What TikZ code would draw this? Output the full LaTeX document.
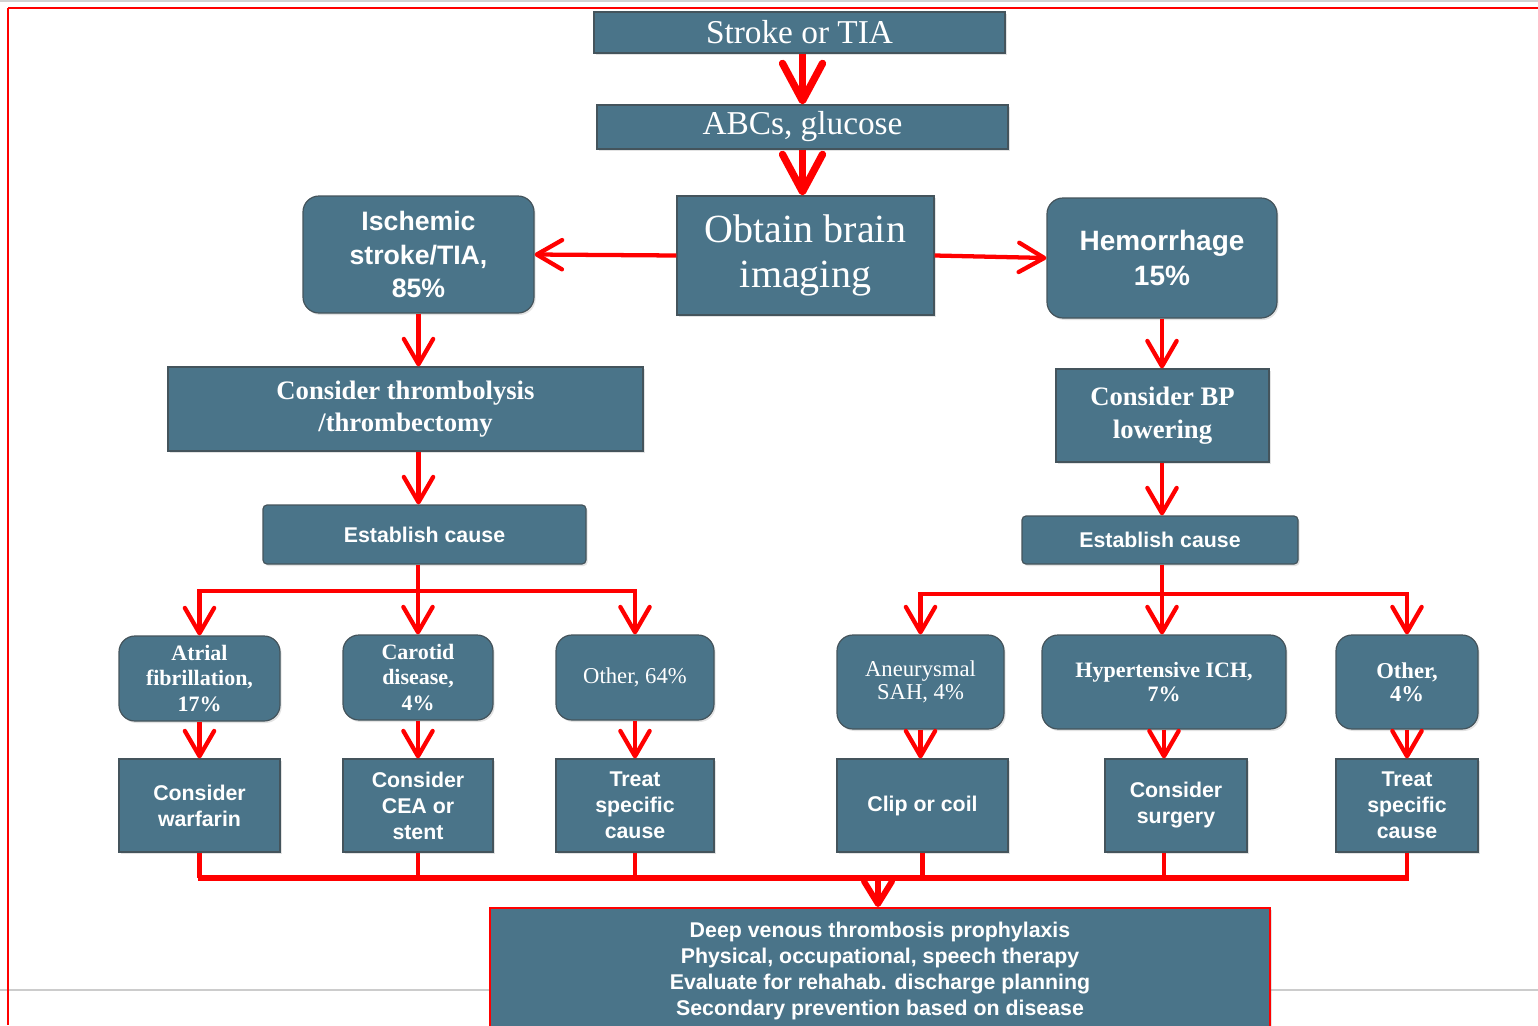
\documentclass[tikz,border=0pt]{standalone}
\usepackage{fontspec}
\setmainfont{Liberation Serif}
\newfontfamily\sansf{Liberation Sans}
\usetikzlibrary{arrows.meta,shadows}
\definecolor{boxfill}{RGB}{74,116,137}
\definecolor{boxedge}{RGB}{68,84,92}
\definecolor{arrred}{RGB}{255,0,0}
\begin{document}
\begin{tikzpicture}[x=0.75pt,y=-0.75pt,
  box/.style={draw=boxedge, line width=0.9pt, fill=boxfill, text=white, align=center, inner sep=0pt,
    drop shadow={opacity=0.22, shadow xshift=1.2pt, shadow yshift=-1.5pt}},
  rbox/.style={box, rounded corners=12pt},
  sbox/.style={box, rounded corners=3pt},
  serifL/.style={font=\fontsize{25}{30}\selectfont},
  serifXL/.style={font=\fontsize{30}{34}\selectfont},
  serifB/.style={font=\bfseries\fontsize{20}{24}\selectfont},
  serifS/.style={font=\fontsize{17}{19}\selectfont},
  serifSB/.style={font=\bfseries\fontsize{16.5}{19}\selectfont},
  sansL/.style={font=\sansf\bfseries\fontsize{20}{25}\selectfont},
  sansM/.style={font=\sansf\bfseries\fontsize{16}{19.5}\selectfont},
  bigarr/.style={draw=arrred, line width=5.5pt, -{Straight Barb[length=28pt,width=30pt,round]}},
  midarr/.style={draw=arrred, line width=3.2pt, -{Straight Barb[length=19pt,width=22pt,round]}},
  ln/.style={draw=arrred, line width=3.2pt},
  thk/.style={draw=arrred, line width=4.8pt},
  botarr/.style={draw=arrred, line width=4.5pt, -{Straight Barb[length=17pt,width=21pt,round]}}
]
\useasboundingbox (0,0) rectangle (1538,1025);
\clip (0,0) rectangle (1538,1025);
\fill[white] (0,0) rectangle (1538,1025);
% frame and page lines
\draw[black!18, line width=1.5pt] (0,1) -- (1538,1);
\draw[black!20, line width=2.2pt] (0,990) -- (1538,990);
\draw[arrred, line width=2.2pt] (8,8) -- (1538,8);
\draw[arrred, line width=1.1pt] (8,8) -- (8,1025);

% nodes
\node[box, serifL, minimum width=308.25pt, minimum height=30.75pt] (stroke) at (799.5,32.5) {Stroke or TIA};
\node[box, serifL, minimum width=308.25pt, minimum height=33pt] (abc) at (802.5,127) {ABCs, glucose};
\node[box, serifXL, minimum width=192.75pt, minimum height=89.25pt] (obtain) at (805.5,255.5) {Obtain brain\\imaging};
\node[rbox, sansL, minimum width=173.25pt, minimum height=87.75pt] (isch) at (418.5,254.5) {Ischemic\\stroke/TIA,\\85\%};
\node[rbox, sansL, font=\sansf\bfseries\fontsize{21}{26}\selectfont, minimum width=172.5pt, minimum height=90pt] (hem) at (1162,258) {Hemorrhage\\15\%};
\node[box, serifB, minimum width=356.25pt, minimum height=63pt] (thromb) at (405.5,409) {Consider thrombolysis\\/thrombectomy};
\node[box, serifB, font=\bfseries\fontsize{20}{25}\selectfont, minimum width=159.75pt, minimum height=69.75pt] (bp) at (1162.5,415.5) {Consider BP\\lowering};
\node[sbox, sansM, minimum width=242.25pt, minimum height=44.25pt] (estL) at (424.5,534.5) {Establish cause};
\node[sbox, sansM, minimum width=207pt, minimum height=36pt] (estR) at (1160,540) {Establish cause};

\node[rbox, serifSB, minimum width=120.75pt, minimum height=63.75pt] (af) at (199.5,678.5) {Atrial\\fibrillation,\\17\%};
\node[rbox, serifSB, minimum width=112.5pt, minimum height=63.75pt] (car) at (418,677.5) {Carotid\\disease,\\4\%};
\node[rbox, serifS, minimum width=118.5pt, minimum height=63.75pt] (oth1) at (635,677.5) {Other, 64\%};
\node[rbox, serifS, font=\fontsize{17}{17.5}\selectfont, minimum width=125.25pt, minimum height=70.5pt] (aneu) at (920.5,682) {Aneurysmal\\SAH, 4\%};
\node[rbox, serifSB, font=\bfseries\fontsize{16.5}{17.5}\selectfont, minimum width=183pt, minimum height=70.5pt] (hyp) at (1164,682) {Hypertensive ICH,\\7\%};
\node[rbox, serifSB, font=\bfseries\fontsize{17}{17.5}\selectfont, minimum width=106.5pt, minimum height=70.5pt] (oth2) at (1407,682) {Other,\\4\%};

\node[box, sansM, minimum width=120.75pt, minimum height=69.75pt] (warf) at (199.5,805.5) {Consider\\warfarin};
\node[box, sansM, minimum width=112.5pt, minimum height=69.75pt] (cea) at (418,805.5) {Consider\\CEA or\\stent};
\node[box, sansM, minimum width=118.5pt, minimum height=69.75pt] (treat1) at (635,805.5) {Treat\\specific\\cause};
\node[box, sansM, minimum width=128.25pt, minimum height=69.75pt] (clip) at (922.5,805.5) {Clip or coil};
\node[box, sansM, minimum width=106.5pt, minimum height=69.75pt] (surg) at (1176,805.5) {Consider\\surgery};
\node[box, sansM, minimum width=106.5pt, minimum height=69.75pt] (treat2) at (1407,805.5) {Treat\\specific\\cause};

\node[box, draw=arrred, line width=1.5pt, sansM, minimum width=585pt, minimum height=94.5pt] (bottom) at (880,971)
  {Deep venous thrombosis prophylaxis\\Physical, occupational, speech therapy\\Evaluate for rehahab. discharge planning\\Secondary prevention based on disease};

% junctions
\coordinate (jL) at (418,591);
\coordinate (jR) at (1162,594);
\coordinate (jB) at (878,878);

% connectors
\draw[bigarr] (abc.north |- stroke.south) -- (abc.north);
\draw[bigarr] (abc.south) -- (abc.south |- obtain.north);
\draw[midarr] (obtain.west) -- (isch.east);
\draw[midarr] (obtain.east) -- (hem.west);
\draw[midarr] (isch.south) -- (isch.south |- thromb.north);
\draw[midarr] (isch.south |- thromb.south) -- (isch.south |- estL.north);
\draw[midarr] (hem.south) -- (hem.south |- bp.north);
\draw[midarr] (hem.south |- bp.south) -- (hem.south |- estR.north);

\draw[ln] (estL.south -| jL) -- (jL);
\draw[midarr] (jL) -| (af.north);
\draw[midarr] (jL) -- (car.north);
\draw[midarr] (jL) -| (oth1.north);
\draw[ln] (estR.south -| jR) -- (jR);
\draw[midarr] (jR) -| (aneu.north);
\draw[midarr] (jR) -- (jR |- hyp.north);
\draw[midarr] (jR) -| (oth2.north);

\draw[midarr] (af.south) -- (warf.north);
\draw[midarr] (car.south) -- (cea.north);
\draw[midarr] (oth1.south) -- (treat1.north);
\draw[midarr] (aneu.south) -- (aneu.south |- clip.north);
\draw[midarr] (hyp.south) -- (hyp.south |- surg.north);
\draw[midarr] (oth2.south) -- (treat2.north);

\draw[ln] (warf.south) -- (warf.south |- jB);
\draw[ln] (cea.south) -- (cea.south |- jB);
\draw[ln] (treat1.south) -- (treat1.south |- jB);
\draw[ln] (clip.south) -- (clip.south |- jB);
\draw[ln] (hyp.south |- surg.south) -- (hyp.south |- jB);
\draw[ln] (treat2.south) -- (treat2.south |- jB);
\draw[thk] ([xshift=-1.2pt]warf.south |- jB) -- ([xshift=1.2pt]treat2.south |- jB);
\draw[botarr] (jB) -- (jB |- bottom.north);
\end{tikzpicture}
\end{document}
